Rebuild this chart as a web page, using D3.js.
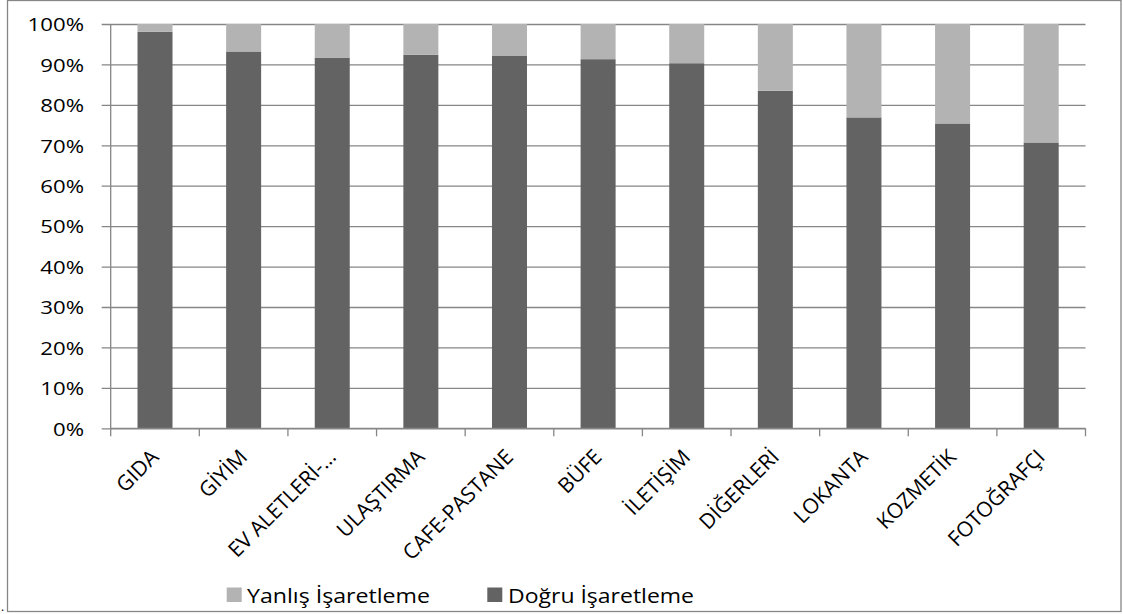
<!DOCTYPE html>
<html>
<head>
<meta charset="utf-8">
<script src="https://cdn.jsdelivr.net/npm/d3@7"></script>
<style>
  html, body { margin: 0; padding: 0; background: #fff; }
  svg { display: block; }
  text { font-family: "Open Sans", "DejaVu Sans", sans-serif; fill: #000; }
</style>
</head>
<body>
<svg id="chart" width="1123" height="614"></svg>
<script>
const categories = ["GIDA", "GİYİM", "EV ALETLERİ-…", "ULAŞTIRMA", "CAFE-PASTANE", "BÜFE", "İLETİŞİM", "DİĞERLERİ", "LOKANTA", "KOZMETİK", "FOTOĞRAFÇI"];
const dogru  = [98.1, 93.2, 91.7, 92.4, 92.2, 91.3, 90.3, 83.5, 76.9, 75.4, 70.7];
const yanlis = [1.9, 6.8, 8.3, 7.6, 7.8, 8.7, 9.7, 16.5, 23.1, 24.6, 29.3];
const yTicks = [0, 10, 20, 30, 40, 50, 60, 70, 80, 90, 100];
const seriesNames = ["Yanlış İşaretleme", "Doğru İşaretleme"];
const seriesColors = { "Yanlış İşaretleme": "#b3b3b3", "Doğru İşaretleme": "#636363" };

(function () {
const svg = d3.select("#chart");
const gridColor = "#868686";

const pLeft = 110.7, pRight = 1085.5, pTop = 24, pBottom = 428.3;

// frame
svg.append("rect").attr("x", 7.5).attr("y", 0.5).attr("width", 1113.5).attr("height", 611)
  .attr("fill", "none").attr("stroke", gridColor).attr("stroke-width", 1.3);
svg.append("text").attr("x", 1).attr("y", 611).attr("font-size", 12).text(".");

const x = d3.scaleBand().domain(categories).range([pLeft, pRight]).paddingInner(0).paddingOuter(0);
const y = d3.scaleLinear().domain([0, 100]).range([pBottom, pTop]);
const barW = 35;

// gridlines + y ticks
const yAxis = d3.axisLeft(y).tickValues(yTicks).tickSize(-(pRight - pLeft)).tickFormat("");
const gy = svg.append("g").attr("transform", `translate(${pLeft},0)`).call(yAxis);
gy.select(".domain").remove();
gy.selectAll(".tick line").attr("stroke", gridColor).attr("stroke-width", 1.3)
  .attr("x1", -9);

// y tick labels
svg.append("g").selectAll("text").data(yTicks).join("text")
  .attr("transform", d => `translate(84, ${y(d)}) scale(1.2,1)`)
  .attr("text-anchor", "end")
  .attr("dominant-baseline", "central")
  .attr("font-size", 18.5)
  .text(d => d + "%");

// stacked data
const rows = categories.map((c, i) => ({ cat: c, "Doğru İşaretleme": dogru[i], "Yanlış İşaretleme": yanlis[i] }));
const stack = d3.stack().keys(["Doğru İşaretleme", "Yanlış İşaretleme"])(rows);

svg.append("g").selectAll("g").data(stack).join("g")
  .attr("fill", d => seriesColors[d.key])
  .selectAll("rect").data(d => d).join("rect")
  .attr("x", d => x(d.data.cat) + x.bandwidth() / 2 - barW / 2)
  .attr("width", barW)
  .attr("y", d => y(d[1]))
  .attr("height", d => y(d[0]) - y(d[1]));

// y axis line
svg.append("line").attr("x1", pLeft).attr("x2", pLeft).attr("y1", pTop).attr("y2", pBottom)
  .attr("stroke", gridColor).attr("stroke-width", 1.3);

// x axis line & ticks
svg.append("line").attr("x1", pLeft).attr("x2", pRight).attr("y1", pBottom).attr("y2", pBottom)
  .attr("stroke", gridColor).attr("stroke-width", 1.3);
const boundaries = categories.map(c => x(c)).concat([pRight]);
svg.append("g").selectAll("line").data(boundaries).join("line")
  .attr("x1", d => d).attr("x2", d => d).attr("y1", pBottom).attr("y2", pBottom + 8)
  .attr("stroke", gridColor).attr("stroke-width", 1.3);

// x labels rotated
svg.append("g").selectAll("text").data(categories).join("text")
  .attr("transform", d => `translate(${x(d) + x.bandwidth() / 2 + 5}, ${pBottom + 30}) rotate(-45)`)
  .attr("text-anchor", "end")
  .attr("font-size", 21)
  .text(d => d);

// legend
const legendItems = [
  { name: seriesNames[0], sx: 226.7, tx: 247, tw: 183 },
  { name: seriesNames[1], sx: 487.3, tx: 508, tw: 186 }
];
const lg = svg.append("g");
legendItems.forEach(it => {
  lg.append("rect").attr("x", it.sx).attr("y", 587.5).attr("width", 15).attr("height", 14.5)
    .attr("fill", seriesColors[it.name]);
  lg.append("text").attr("x", it.tx).attr("y", 602.5).attr("font-size", 20.5)
    .attr("textLength", it.tw).attr("lengthAdjust", "spacingAndGlyphs")
    .text(it.name);
});
})();
</script>
</body>
</html>
